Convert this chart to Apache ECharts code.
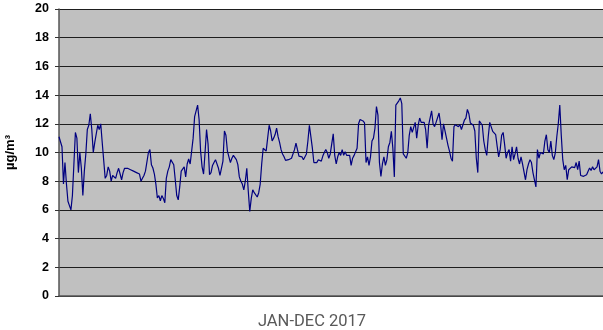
<!DOCTYPE html>
<html>
<head>
<meta charset="utf-8">
<script src="https://cdn.jsdelivr.net/npm/echarts@6/dist/echarts.min.js"></script>
<style>
  html, body { margin: 0; padding: 0; background: #ffffff; }
  #chart { width: 603px; height: 330px; }
</style>
</head>
<body>
<div id="chart"></div>
<script>
// Daily mean concentration (µg/m³), 1 Jan – 31 Dec 2017
const janFeb = [11.1, 11.1, 10.4, 7.8, 9.3, 7.8, 6.6, 6.3, 6.0, 7.0, 9.2, 11.4, 11.0, 8.6, 10.0, 8.9, 7.0, 8.7, 9.9, 11.6,
  11.9, 12.7, 11.6, 10.0, 10.7, 10.8, 11.9, 11.6, 12.0, 10.7, 10.8, 8.2, 8.4, 9.0, 8.7, 8.0, 8.4, 8.3, 8.2, 8.6,
  8.9, 8.5, 8.1, 8.6, 8.9, 8.9, 8.9, 8.8, 8.8, 8.7, 8.7, 8.6, 8.6, 8.5, 8.5, 8.0, 8.2, 8.4, 8.7, 8.8,
  10.0, 10.2];
const marApr = [9.15, 8.92, 8.5, 7.8, 6.83, 7.0, 6.64, 7.0, 6.8, 6.5, 8.2, 8.7, 9.0, 9.5, 9.5, 9.15, 8.1, 7.0, 6.7, 7.6,
  8.7, 8.7, 9.0, 8.3, 9.2, 9.55, 9.2, 9.3, 11.0, 12.5, 12.4, 13.3, 12.3, 10.1, 9.0, 8.5, 10.0, 11.6, 10.6, 8.45,
  8.6, 9.1, 9.3, 9.5, 9.5, 8.9, 8.4, 8.4, 9.4, 11.5, 11.2, 10.1, 10.0, 9.3, 9.6, 9.8, 9.75, 9.5, 9.15, 8.3];
const mayJun = [8.0, 7.8, 7.4, 8.0, 8.9, 7.3, 5.9, 6.8, 7.4, 7.2, 7.2, 6.9, 7.2, 7.8, 9.2, 10.3, 10.3, 10.1, 11.0, 11.9,
  11.5, 10.8, 11.0, 11.25, 11.7, 11.1, 10.7, 10.2, 9.9, 9.7, 9.45, 9.4, 9.5, 9.6, 9.6, 9.73, 10.2, 10.66, 10.2, 9.75,
  9.7, 9.7, 9.5, 9.55, 9.9, 10.8, 11.9, 11.9, 10.3, 9.3, 9.3, 9.3, 9.5, 9.5, 9.4, 9.75, 10.0, 10.2, 10.0, 9.6];
const julAug = [9.9, 10.6, 11.3, 9.8, 9.2, 9.7, 10.0, 9.8, 10.2, 9.8, 10.05, 9.8, 9.8, 9.8, 9.1, 9.6, 9.8, 9.85, 10.3, 12.0,
  12.3, 12.2, 12.2, 12.06, 9.3, 9.7, 9.1, 9.7, 10.8, 11.0, 11.7, 13.2, 12.6, 9.3, 8.34, 9.2, 9.7, 9.1, 9.5, 10.4,
  10.7, 11.47, 10.3, 8.3, 13.3, 13.4, 13.6, 13.8, 13.4, 9.9, 9.8, 9.6, 9.97, 11.2, 11.8, 11.4, 11.3, 12.1, 11.0, 11.9,
  12.4];
const sepOct = [12.1, 12.1, 12.1, 11.6, 10.3, 11.9, 12.0, 12.9, 12.0, 11.8, 12.1, 12.06, 12.75, 12.0, 10.9, 12.0, 11.9, 11.0, 10.5, 10.1,
  9.6, 9.4, 11.8, 11.94, 12.06, 11.8, 11.94, 11.6, 11.6, 12.25, 12.4, 13.0, 12.7, 12.06, 11.94, 11.9, 11.5, 9.6, 8.6, 12.2,
  12.3, 11.9, 10.8, 10.2, 9.8, 11.1, 12.1, 12.0, 11.47, 11.47, 11.24, 10.43, 9.7, 10.2, 11.2, 11.4, 10.55, 9.6, 10.0, 10.2,
  9.4];
const novDec = [10.4, 9.5, 9.9, 10.4, 9.6, 9.2, 9.7, 9.2, 9.3, 8.1, 8.8, 9.2, 9.5, 9.3, 8.6, 8.1, 7.6, 10.2, 9.6, 10.0,
  9.9, 9.9, 10.8, 11.24, 10.2, 10.0, 10.8, 9.8, 9.5, 9.97, 11.1, 12.0, 13.3, 11.2, 9.5, 8.8, 9.1, 8.1, 8.8, 8.7,
  9.0, 9.1, 8.95, 9.3, 8.8, 9.4, 8.4, 8.34, 8.34, 8.4, 8.45, 8.7, 8.92, 8.75, 9.0, 8.8, 8.92, 9.0, 9.5, 8.7,
  8.5, 8.65];

const dailyValues = [].concat(janFeb, marApr, mayJun, julAug, sepOct, novDec);

// One category per day of the year
const start = new Date(Date.UTC(2017, 0, 1));
const days = dailyValues.map((_, i) => {
  const d = new Date(start.getTime() + i * 86400000);
  return d.toISOString().slice(0, 10);
});

const yTicks = { min: 0, max: 20, step: 2 };
const yTitle = 'µg/m³';
const xTitle = 'JAN-DEC 2017';

const chart = echarts.init(document.getElementById('chart'), null, { renderer: 'canvas' });
chart.setOption({
  animation: false,
  backgroundColor: '#ffffff',
  title: {
    text: xTitle,
    left: 307,
    top: 308,
    textAlign: 'center',
    textStyle: {
      fontFamily: "Roboto, sans-serif",
      fontSize: 16.5,
      fontWeight: 'normal',
      color: '#595959'
    }
  },
  grid: {
    left: 59,
    right: 0,
    top: 9,
    bottom: 34,
    outerBoundsMode: 'none',
    containLabel: false,
    show: true,
    backgroundColor: '#c0c0c0',
    borderWidth: 0
  },
  xAxis: {
    type: 'category',
    data: days,
    boundaryGap: false,
    axisLine: { show: true, lineStyle: { color: '#555555', width: 1.5 } },
    axisTick: { show: false },
    axisLabel: { show: false },
    splitLine: { show: false }
  },
  yAxis: {
    type: 'value',
    min: yTicks.min,
    max: yTicks.max,
    interval: yTicks.step,
    name: yTitle,
    nameLocation: 'middle',
    nameGap: 42,
    nameRotate: 90,
    nameTextStyle: {
      fontFamily: "'Liberation Sans', Arial, sans-serif",
      fontSize: 13,
      fontWeight: 'bold',
      color: '#000000'
    },
    axisLine: { show: true, lineStyle: { color: '#555555', width: 1.5 } },
    axisTick: { show: true, length: 4, lineStyle: { color: '#333333' } },
    axisLabel: {
      margin: 10,
      fontFamily: "'Liberation Sans', Arial, sans-serif",
      fontSize: 12.5,
      fontWeight: 'bold',
      color: '#000000'
    },
    splitLine: { show: true, lineStyle: { color: '#1e1e1e', width: 1 } }
  },
  series: [{
    type: 'line',
    data: dailyValues,
    showSymbol: false,
    symbol: 'none',
    lineStyle: { color: '#000080', width: 1.2 },
    z: 3
  }]
});
</script>
</body>
</html>
